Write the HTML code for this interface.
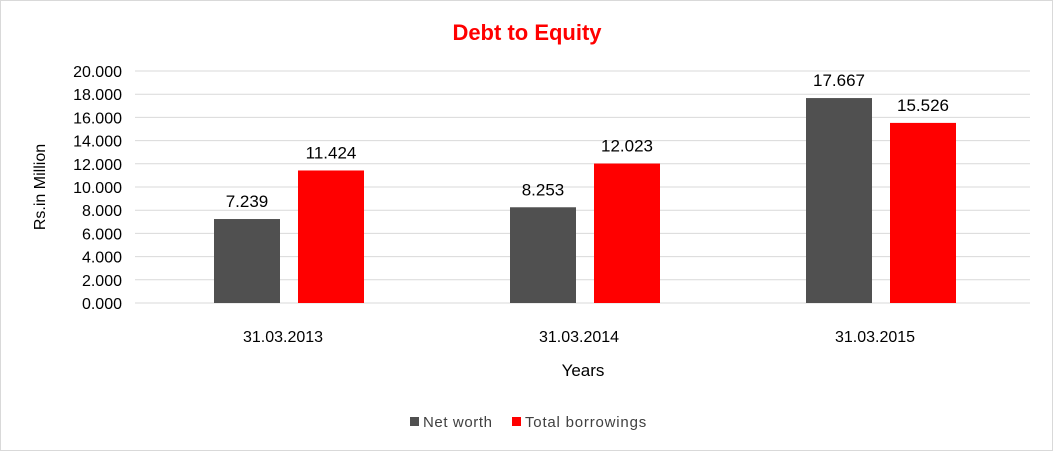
<!DOCTYPE html>
<html><head><meta charset="utf-8"><style>
html,body{margin:0;padding:0;background:#fff;}
svg{display:block;font-family:"Liberation Sans",Arial,sans-serif;}
</style></head><body>
<svg id="chart" width="1053" height="451">
<rect x="0.5" y="0.5" width="1052" height="450" fill="#fff" stroke="#d9d9d9"/>
<text x="527" y="40" text-anchor="middle" font-size="22" font-weight="bold" fill="#ff0000">Debt to Equity</text>
<g id="grid"></g>
<g id="yticks"></g>
<g id="bars"></g>
<g id="xticks"></g>
<text transform="translate(45,187) rotate(-90)" text-anchor="middle" font-size="16" fill="#000">Rs.in Million</text>
<text x="583" y="376" text-anchor="middle" font-size="17" fill="#000">Years</text>
<g>
<g><rect x="410" y="417" width="9" height="9" fill="#505050"/><text x="423" y="427" font-size="15" letter-spacing="0.6" fill="#404040">Net worth</text></g>
<g><rect x="512" y="417" width="9" height="9" fill="#ff0000"/><text x="525" y="427" font-size="15" letter-spacing="0.8" fill="#404040">Total borrowings</text></g>
</g>
</svg>
<script>
const categories = ["31.03.2013","31.03.2014","31.03.2015"];
const netWorth = [7.239, 8.253, 17.667];
const totalBorrowings = [11.424, 12.023, 15.526];
const yTicks = [0,2,4,6,8,10,12,14,16,18,20];

const NS="http://www.w3.org/2000/svg";
const plotL=135, plotR=1030, y0=303, yTop=71, yMax=20;
const y=v=>y0-(v/yMax)*(y0-yTop);
const band=296;
const cx=i=>plotL+148+band*i;
function mk(tag,attrs,parent,text){const e=document.createElementNS(NS,tag);for(const k in attrs)e.setAttribute(k,attrs[k]);if(text!==undefined)e.textContent=text;parent.appendChild(e);return e;}
const grid=document.getElementById('grid'),yt=document.getElementById('yticks'),bars=document.getElementById('bars'),xt=document.getElementById('xticks');
yTicks.forEach(t=>{
  const l=mk('line',{x1:plotL,x2:plotR,y1:y(t),y2:y(t),stroke:'#d9d9d9','stroke-width':1},grid);
  
  
  const tx=mk('text',{x:122,y:y(t)+6,'text-anchor':'end','font-size':16,fill:'#000'},yt,t.toFixed(3));
  
  
});
const bw=66;
categories.forEach((c,i)=>{
  const series=[[netWorth[i],'#505050',cx(i)-69,'bar-net-worth'],[totalBorrowings[i],'#ff0000',cx(i)+15,'bar-total-borrowings']];
  series.forEach(([v,col,x,nm])=>{
    const r=mk('rect',{x:x,y:y(v),width:bw,height:y0-y(v),fill:col},bars);
    
    
    const lb=mk('text',{x:x+bw/2,y:y(v)-12,'text-anchor':'middle','font-size':17,fill:'#000'},bars,v.toFixed(3));
    
    
  });
  const xl=mk('text',{x:cx(i),y:342,'text-anchor':'middle','font-size':16,fill:'#000'},xt,c);
  
  
});
</script>
</body></html>
